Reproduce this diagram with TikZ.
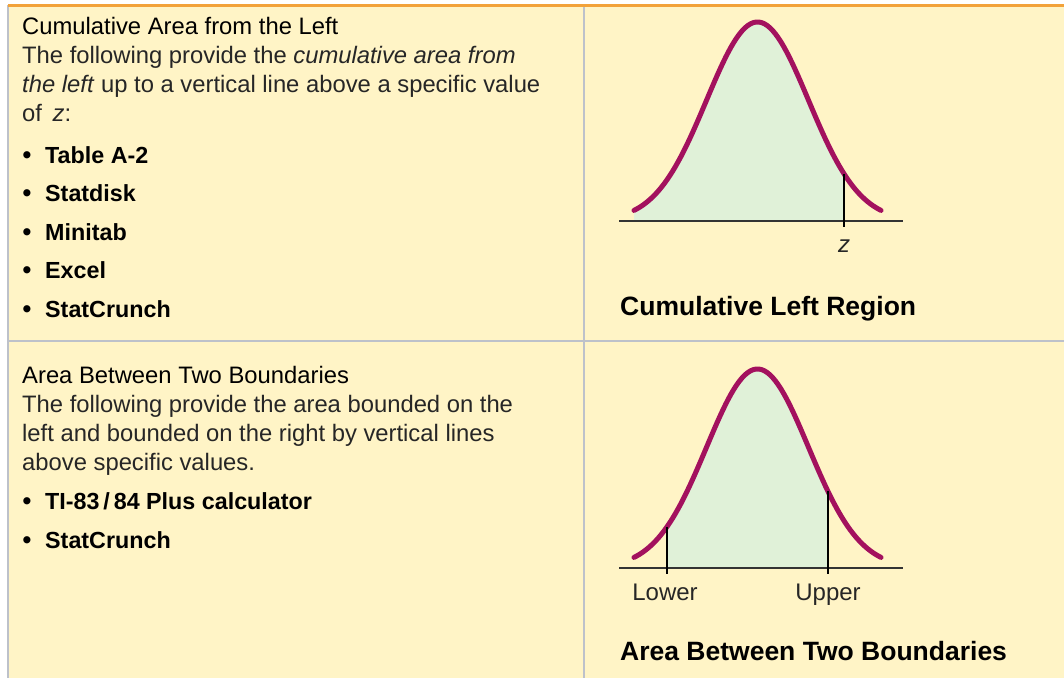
\documentclass[tikz,border=0pt]{standalone}
\usepackage{fontspec}
\setmainfont{Liberation Sans}
\usepackage{xcolor}

\definecolor{cellbg}{HTML}{FFF4C6}
\definecolor{rulegray}{HTML}{BDC1CA}
\definecolor{toporange}{HTML}{F2A23A}
\definecolor{bellline}{HTML}{A3115E}
\definecolor{bellfill}{HTML}{E0F1D8}

\tikzset{
  body/.style={anchor=base west, inner sep=0pt, text=black!85,
    font=\fontsize{23.8}{29}\selectfont},
  item/.style={anchor=base west, inner sep=0pt,
    font=\fontsize{23.3}{28}\selectfont\bfseries},
  bullet/.style={anchor=base, inner sep=0pt,
    font=\fontsize{25}{28}\selectfont\bfseries},
  caption/.style={anchor=base west, inner sep=0pt,
    font=\fontsize{26.5}{30}\selectfont\bfseries},
  tick/.style={anchor=base, inner sep=0pt, text=black!85,
    font=\fontsize{24}{28}\selectfont},
  bell/.style={draw=bellline, line width=5pt, line cap=round},
  marker/.style={draw=black, line width=1.3pt},
  axis/.style={draw=black!80, line width=1.3pt},
  grid/.style={draw=rulegray, line width=1.5pt},
  declare function={bell(\x)=199*exp(-((\x-757.5)/51)^2/2);}
}

\begin{document}
\begin{tikzpicture}[x=1pt, y=-1pt]
\useasboundingbox (0,0) rectangle (1064,678);

% Table frame
\fill[white] (0,0) rectangle (1064,678);
\fill[cellbg] (8,5) rectangle (1064,678);
\coordinate (tl) at (8,5);
\coordinate (tr) at (1064,5);
\coordinate (bl) at (8,678);
\coordinate (mt) at (584,5);
\coordinate (mb) at (584,678);
\coordinate (ml) at (8,341);
\coordinate (mr) at (1064,341);
\draw[grid] (tl) -- (bl);
\draw[grid] (mt) -- (mb);
\draw[grid] (ml) -- (mr);
\draw[toporange, line width=3pt] (tl) -- (tr);

% Upper left cell
\node[body, text=black] (head1) at (22,34) {Cumulative Area from the Left};
\node[body] (desc1a) at (22,63) {The following provide the \textit{cumulative area from}};
\node[body] (desc1b) at (22,92) {\textit{the left} up to a vertical line above a specific value};
\node[body] (desc1c) at (22,121) {of \,\textit{z}:};
\foreach \tool [count=\i] in {Table A-2, Statdisk, Minitab, Excel, StatCrunch} {
  \node[bullet] (dot\i) at (27,{124.5+38.5*\i}) {•};
  \node[item] (tool\i) at (45,{124.5+38.5*\i}) {\tool};
}

% Lower left cell
\node[body, text=black] (head2) at (22,383) {Area Between Two Boundaries};
\node[body] (desc2a) at (22,412) {The following provide the area bounded on the};
\node[body] (desc2b) at (22,441) {left and bounded on the right by vertical lines};
\node[body] (desc2c) at (22,470) {above specific values.};
\node[bullet] (dotA) at (27,509) {•};
\node[item] (calc) at (45,509) {TI-83\,/\,84 Plus calculator};
\node[bullet] (dotB) at (27,548) {•};
\node[item] (crunch) at (45,548) {StatCrunch};

% Cumulative left region
\fill[bellfill] (634,221) -- plot[domain=634:844, samples=60] (\x,{221-bell(\x)}) -- (844,221) -- cycle;
\coordinate (axL1) at (619,221);
\coordinate (axR1) at (903,221);
\draw[axis] (axL1) -- (axR1);
\draw[bell] plot[domain=634:881, samples=90] (\x,{221-bell(\x)});
\coordinate (zTop) at (844,{221-bell(844)});
\coordinate (zBot) at (844,227);
\draw[marker] (zTop) -- (zBot);
\node[tick, font=\fontsize{24}{28}\selectfont\itshape] (zlab) at (844,252) {z};
\node[caption] (cap1) at (620,315) {Cumulative Left Region};

% Area between two boundaries
\fill[bellfill] (667,568) -- plot[domain=667:828, samples=60] (\x,{568-bell(\x)}) -- (828,568) -- cycle;
\coordinate (axL2) at (619,568);
\coordinate (axR2) at (903,568);
\draw[axis] (axL2) -- (axR2);
\draw[bell] plot[domain=634:881, samples=90] (\x,{568-bell(\x)});
\coordinate (loTop) at (667,{568-bell(667)});
\coordinate (loBot) at (667,574);
\coordinate (upTop) at (828,{568-bell(828)});
\coordinate (upBot) at (828,574);
\draw[marker] (loTop) -- (loBot);
\draw[marker] (upTop) -- (upBot);
\node[tick] (lolab) at (665,600) {Lower};
\node[tick] (uplab) at (828,600) {Upper};
\node[caption] (cap2) at (620,660) {Area Between Two Boundaries};

\end{tikzpicture}
\end{document}
